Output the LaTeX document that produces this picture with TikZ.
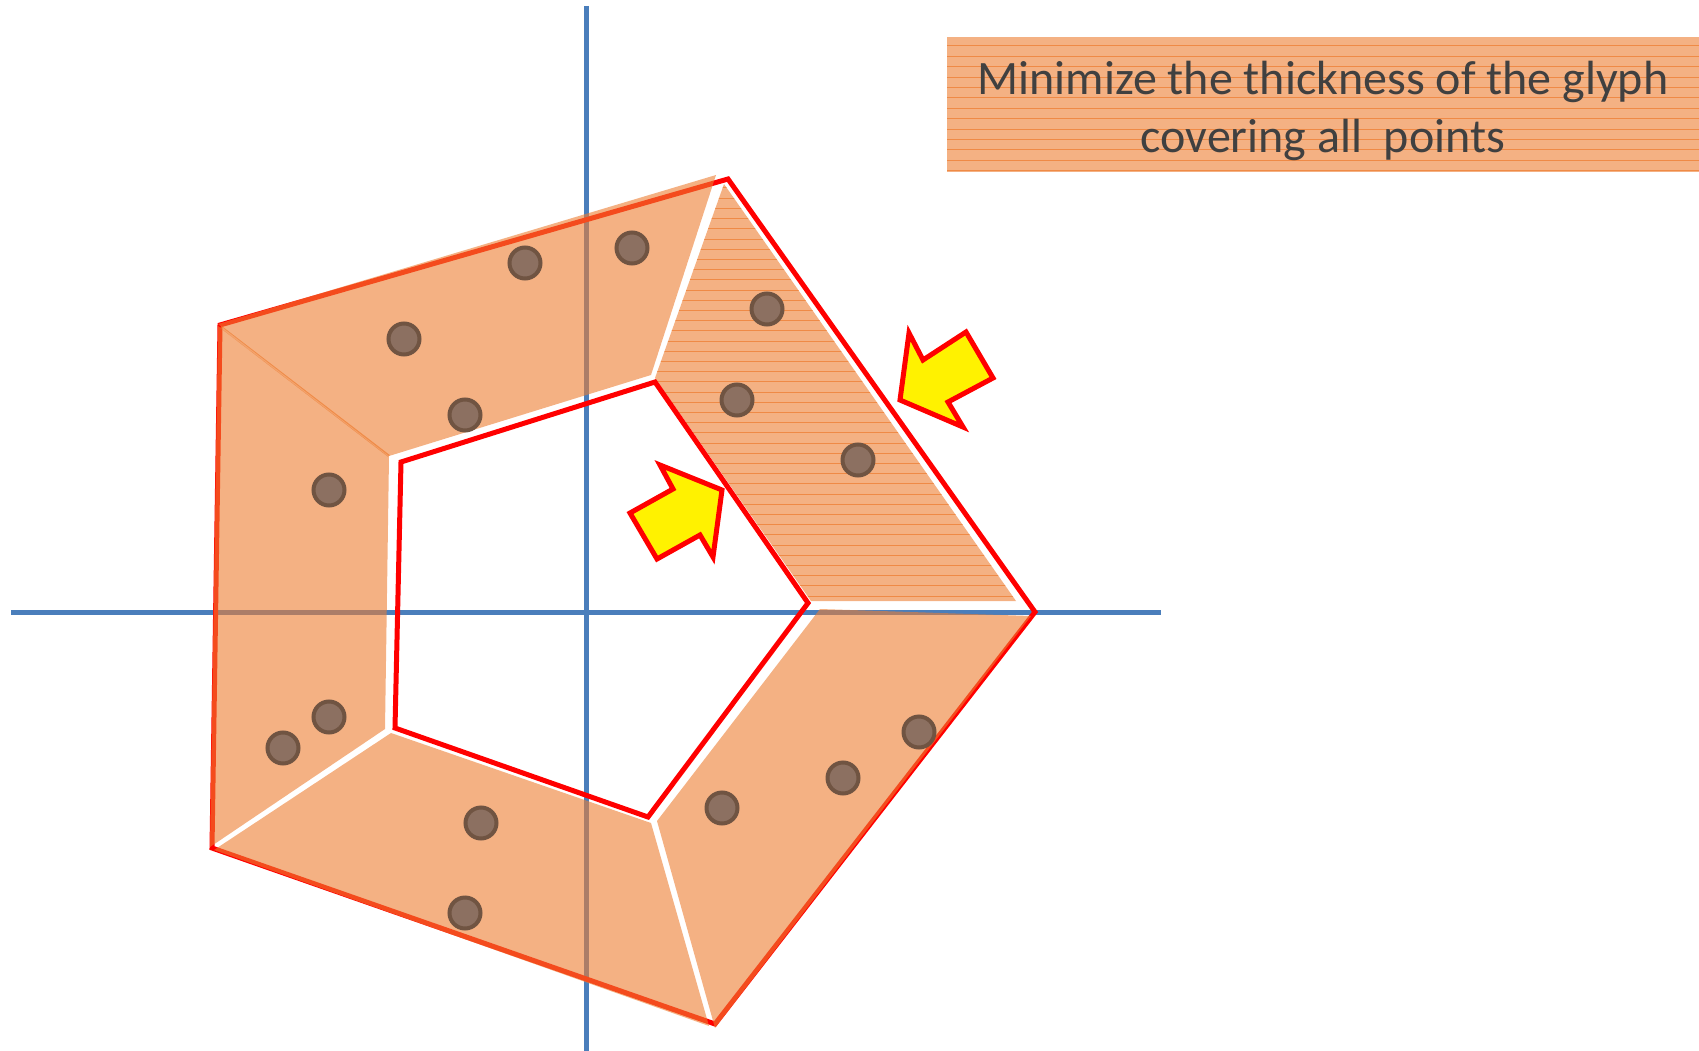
\documentclass[tikz,border=0pt]{standalone}
\usepackage{fontspec}
\setmainfont{Carlito}
\definecolor{glyphorange}{RGB}{237,125,49}
\definecolor{axisblue}{RGB}{74,126,187}
\definecolor{dotfill}{RGB}{140,112,97}
\definecolor{dotring}{RGB}{112,84,66}
\definecolor{textgray}{RGB}{64,64,64}
\begin{document}
\begin{tikzpicture}[x=1pt, y=-1pt,
    axis/.style={axisblue, line width=5pt},
    band/.style={fill=glyphorange, fill opacity=0.6},
    hatch/.style={glyphorange, line width=1pt, opacity=0.75},
    edge/.style={red, line width=5pt, line join=miter},
    sample/.style={fill=dotfill, draw=dotring, line width=4pt},
    squeeze/.style={fill=yellow, draw=red, line width=5pt, line join=miter},
    goalbox/.style={rectangle, band, minimum width=752pt, minimum height=135pt, inner sep=0pt,
        path picture={\foreach \k in {0,...,12}
            \draw[hatch] ([yshift=-9pt-\k*10.4pt]path picture bounding box.north west)
                      -- ([yshift=-9pt-\k*10.4pt]path picture bounding box.north east);}}]
    \useasboundingbox (0,0) rectangle (1699,1051);

    \draw[axis] (586,6) -- (586,1051);
    \draw[axis] (11,612) -- (1161,612);

    \coordinate (oTL) at (220,325);
    \coordinate (oT) at (728,179);
    \coordinate (oR) at (1035,612);
    \coordinate (oB) at (715,1024);
    \coordinate (oBL) at (212,848);
    \coordinate (iT) at (655,382);
    \coordinate (iR) at (808,603);
    \coordinate (iB) at (648,817);
    \coordinate (iBL) at (395,728);
    \coordinate (iTL) at (401,462);

    \draw[edge] (oTL) -- (oT) -- (oR) -- (oB) -- (oBL) -- cycle;

    \fill[band] (218,324) -- (716,175) -- (651,375) -- (389,456) -- cycle;
    \fill[band] (218,326) -- (389,457) -- (385,729) -- (210,847) -- cycle;
    \fill[band] (391,733) -- (651,823) -- (709,1026) -- (214,850) -- cycle;
    \fill[band] (820,609) -- (1031,616) -- (715,1028) -- (657,821) -- cycle;
    \fill[band] (724,184) -- (1016,601) -- (811,601) -- (655,378) -- cycle;
    \begin{scope}
        \clip (724,184) -- (1016,601) -- (811,601) -- (655,378) -- cycle;
        \foreach \k in {0,...,40}
            \draw[hatch] (640,188+\k*10.2) -- (1030,188+\k*10.2);
    \end{scope}
    \draw[glyphorange, opacity=0.7, line width=2.5pt] (221,327) -- (389,456);

    \draw[edge] (iT) -- (iR) -- (iB) -- (iBL) -- (iTL) -- cycle;

    \foreach \x/\y in {525/263, 632/248, 404/339, 465/415, 767/309, 737/400, 858/460,
                       329/490, 329/717, 283/748, 919/732, 843/778, 722/808, 481/823, 465/913}
        \draw[sample] (\x,\y) circle (15.5);

    \draw[squeeze] (900,400) -- (909,333) -- (923,360) -- (966,332) -- (993,378)
        -- (948,402) -- (963,427) -- cycle;
    \draw[squeeze] (722,490) -- (660,465) -- (673,489) -- (630,513) -- (657,559)
        -- (700,535) -- (713,557) -- cycle;

    \node (goal) [goalbox] at (1323,104.5) {};
    \node (goaltext) [align=center, text=textgray, font=\fontsize{48}{58}\selectfont]
        at ([yshift=-6pt]goal.center) {Minimize the thickness of the glyph\\covering all\ \ points};
\end{tikzpicture}
\end{document}
